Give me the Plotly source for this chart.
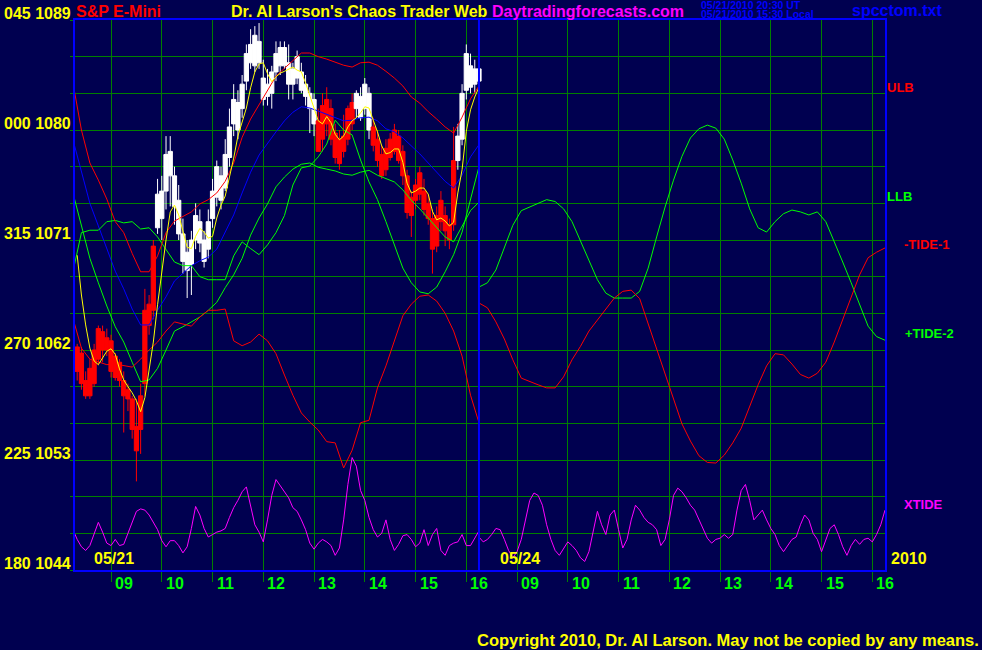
import plotly.graph_objects as go

# ---------------- data ----------------
DAY1_LABEL = "05/21"
DAY2_LABEL = "05/24"
YEAR_LABEL = "2010"
SESSION_START = 8.25          # 08:15
SESSION_END = 16.25           # 16:15
DAY2_OFFSET = 8.0             # second session drawn right after the first
HOURS = [9, 10, 11, 12, 13, 14, 15, 16]

# left axis: price labels and their angle prefixes
price_ticks = [1044, 1053, 1062, 1071, 1080, 1089]
angle_ticks = ["180", "225", "270", "315", "000", "045"]

# 5-minute bars 05/21 (bar centres from 08:20)
bar_open = [1062.25, 1061.75, 1059.5, 1060.5, 1062.0, 1063.75, 1063.5, 1063.0, 1062.75, 1061.5,
            1061.0, 1059.5, 1058.75, 1058.0, 1055.75, 1058.25, 1065.25, 1065.75, 1070.5, 1072.0,
            1072.75, 1075.0, 1076.25, 1073.75, 1071.5, 1069.25, 1068.5, 1069.0, 1071.0, 1070.75,
            1069.25, 1070.25, 1072.75, 1074.5, 1074.25, 1075.25, 1077.75, 1080.5, 1080.0, 1081.75,
            1084.0, 1085.5, 1085.25, 1085.5, 1082.5, 1082.75, 1083.0, 1084.75, 1085.25, 1085.25,
            1083.75, 1083.75, 1084.25, 1083.25, 1082.75, 1081.75, 1080.5, 1080.75, 1082.0, 1082.5,
            1081.75, 1079.75, 1079.25, 1079.5, 1081.75, 1082.25, 1081.75, 1081.0, 1081.75, 1080.0,
            1080.25, 1079.25, 1078.0, 1078.5, 1079.25, 1080.0, 1079.5, 1078.25, 1076.25, 1074.5,
            1075.5, 1076.5, 1075.0, 1074.0, 1072.75, 1073.0, 1074.25, 1073.0, 1072.25, 1077.5,
            1077.5, 1079.25, 1083.25, 1083.5, 1083.75, 1084.0]
bar_high = [1062.5, 1062.25, 1060.25, 1061.25, 1062.5, 1064.0, 1064.0, 1063.75, 1063.25, 1061.75,
            1061.25, 1060.25, 1059.25, 1058.25, 1058.0, 1059.25, 1067.0, 1066.5, 1071.0, 1076.0,
            1076.25, 1079.5, 1079.5, 1077.0, 1075.5, 1072.75, 1071.0, 1071.75, 1074.0, 1073.5,
            1071.75, 1073.5, 1076.0, 1077.5, 1077.0, 1079.25, 1081.75, 1083.75, 1083.25, 1084.5,
            1087.0, 1088.25, 1088.5, 1088.75, 1085.75, 1085.0, 1085.25, 1087.25, 1087.25, 1087.25,
            1087.0, 1085.5, 1086.5, 1085.5, 1084.5, 1083.5, 1083.0, 1081.75, 1083.0, 1083.5,
            1082.5, 1080.5, 1080.0, 1081.25, 1082.0, 1083.0, 1083.25, 1083.5, 1084.25, 1083.5,
            1081.0, 1080.0, 1078.75, 1079.25, 1079.75, 1080.5, 1080.0, 1078.75, 1076.75, 1075.0,
            1076.0, 1077.0, 1076.0, 1074.75, 1073.5, 1073.75, 1075.0, 1073.75, 1072.75, 1080.25,
            1080.5, 1083.75, 1087.0, 1086.25, 1085.75, 1085.25]
bar_low = [1059.5, 1058.75, 1058.0, 1058.0, 1059.0, 1060.75, 1061.0, 1061.5, 1059.75, 1059.5,
           1059.0, 1055.25, 1057.0, 1054.75, 1051.25, 1053.5, 1058.25, 1063.25, 1064.5, 1071.5,
           1071.0, 1073.5, 1073.75, 1072.25, 1071.0, 1068.25, 1066.25, 1066.5, 1070.25, 1070.0,
           1068.75, 1069.5, 1072.0, 1073.75, 1073.5, 1075.0, 1077.0, 1079.5, 1079.25, 1081.0,
           1083.25, 1085.0, 1084.75, 1085.0, 1082.0, 1082.0, 1081.75, 1084.0, 1084.5, 1085.0,
           1082.5, 1082.5, 1083.75, 1083.0, 1082.0, 1079.75, 1079.5, 1078.25, 1078.25, 1079.5,
           1078.75, 1077.25, 1076.75, 1077.75, 1078.75, 1080.0, 1081.0, 1080.75, 1081.25, 1079.25,
           1078.25, 1077.0, 1076.0, 1076.25, 1077.5, 1078.0, 1077.25, 1075.5, 1072.75, 1071.25,
           1073.5, 1074.25, 1073.0, 1072.25, 1068.25, 1070.0, 1071.75, 1070.5, 1070.25, 1071.75,
           1076.75, 1078.75, 1082.5, 1083.0, 1083.0, 1083.5]
bar_close = [1060.25, 1059.25, 1058.25, 1058.25, 1059.25, 1061.25, 1062.0, 1062.0, 1060.25, 1059.75,
             1059.5, 1058.25, 1058.0, 1055.5, 1053.75, 1055.5, 1059.25, 1064.0, 1065.25, 1074.75,
             1075.0, 1078.0, 1078.25, 1076.25, 1074.25, 1071.5, 1070.0, 1071.0, 1073.0, 1072.5,
             1071.0, 1072.5, 1075.0, 1077.0, 1076.25, 1078.0, 1080.25, 1082.5, 1082.25, 1083.75,
             1086.25, 1087.0, 1087.75, 1087.25, 1084.25, 1083.75, 1084.75, 1086.25, 1086.75, 1086.75,
             1085.5, 1085.0, 1086.0, 1084.75, 1083.75, 1083.0, 1082.5, 1078.25, 1079.25, 1080.5,
             1079.25, 1077.75, 1077.25, 1078.25, 1079.25, 1080.5, 1083.0, 1082.75, 1083.75, 1083.0,
             1078.75, 1077.5, 1076.25, 1076.75, 1077.75, 1078.25, 1077.5, 1076.25, 1073.25, 1073.0,
             1074.25, 1074.75, 1073.5, 1072.75, 1070.25, 1070.5, 1072.5, 1071.75, 1071.0, 1072.25,
             1079.5, 1083.0, 1086.25, 1085.25, 1085.0, 1085.0]

# yellow smoothed price, at the bar centres
yellow = [1069.75, 1066.5, 1064.05, 1062.15, 1061.1, 1060.8, 1061.35, 1061.9, 1062.1, 1061.65,
          1060.45, 1059.55, 1059.0, 1058.5, 1057.85, 1056.95, 1058.1, 1060.2, 1062.65, 1065.7,
          1068.55, 1071.0, 1073.3, 1073.85, 1073.05, 1071.8, 1070.4, 1070.3, 1071.3, 1071.95,
          1071.65, 1071.15, 1071.3, 1072.8, 1073.85, 1074.6, 1076.1, 1077.7, 1079.5, 1080.65,
          1081.8, 1083.45, 1084.75, 1085.4, 1085.5, 1084.6, 1083.95, 1084.35, 1084.65, 1084.8,
          1085.0, 1085.15, 1084.9, 1084.75, 1083.85, 1082.8, 1081.9, 1080.75, 1080.5, 1081.1,
          1080.6, 1079.65, 1079.2, 1079.5, 1080.25, 1080.75, 1081.0, 1081.4, 1081.9, 1081.8,
          1080.8, 1079.85, 1078.7, 1078.05, 1078.15, 1078.45, 1078.45, 1077.35, 1075.65, 1074.85,
          1075.0, 1075.25, 1075.25, 1074.75, 1073.35, 1072.65, 1072.8, 1072.55, 1072.15, 1072.45,
          1074.85, 1076.75, 1079.9, 1081.65, 1082.7, 1083.5]

# 10-minute bands 05/21 (08:15 .. 16:15)
ulb = [1083.85, 1080.0, 1077.3, 1075.9, 1074.35, 1072.5, 1071.6, 1069.9, 1068.4, 1068.4,
       1069.7, 1071.6, 1072.55, 1072.9, 1073.3, 1073.95, 1074.3, 1074.85, 1075.8, 1077.3,
       1079.4, 1080.9, 1082.1, 1083.2, 1084.4, 1085.05, 1085.7, 1086.3, 1086.3, 1086.0,
       1085.8, 1085.55, 1085.3, 1085.15, 1085.5, 1085.55, 1085.3, 1084.8, 1084.25, 1083.6,
       1082.7, 1082.2, 1081.5, 1080.9, 1080.25, 1079.75, 1081.05, 1082.55, 1083.6]
mid_band = [1079.2, 1076.55, 1074.0, 1072.15, 1070.25, 1068.45, 1067.0, 1065.35, 1064.05, 1064.05,
            1065.25, 1066.35, 1067.65, 1068.3, 1068.9, 1069.3, 1069.6, 1070.25, 1071.65, 1073.05,
            1074.85, 1076.55, 1077.95, 1078.95, 1079.85, 1080.75, 1081.45, 1081.9, 1081.8, 1081.55,
            1081.3, 1081.05, 1080.75, 1080.8, 1081.0, 1081.05, 1080.75, 1080.1, 1079.85, 1079.35,
            1078.7, 1078.05, 1077.3, 1076.55, 1075.8, 1075.25, 1076.3, 1077.8, 1078.8]
llb = [1074.85, 1072.15, 1069.5, 1067.5, 1065.6, 1063.9, 1062.65, 1061.0, 1059.4, 1059.55,
       1060.5, 1062.0, 1063.55, 1063.9, 1064.3, 1064.7, 1065.25, 1065.9, 1067.1, 1068.15,
       1069.5, 1071.4, 1072.8, 1073.95, 1075.35, 1076.15, 1076.8, 1077.2, 1077.3, 1076.95,
       1076.8, 1076.65, 1076.4, 1076.3, 1076.55, 1076.7, 1076.3, 1076.0, 1075.75, 1075.1,
       1074.25, 1073.55, 1072.8, 1072.0, 1071.25, 1070.85, 1072.15, 1073.4, 1074.1]

# 10-minute tides, 05/21 then 05/24 (08:15 .. 16:15 each)
tide1_d1 = [1064.6, 1062.15, 1061.25, 1061.0, 1060.8, 1060.85, 1060.7, 1060.6, 1061.25, 1062.0,
            1062.65, 1063.55, 1064.3, 1064.1, 1063.95, 1064.7, 1065.25, 1065.25, 1065.35, 1062.75,
            1062.35, 1062.65, 1063.3, 1062.75, 1061.7, 1059.95, 1058.3, 1056.85, 1056.1, 1055.45,
            1054.5, 1054.4, 1052.35, 1053.8, 1056.05, 1056.25, 1058.9, 1060.7, 1062.8, 1064.8,
            1065.75, 1066.4, 1066.5, 1066.0, 1065.0, 1063.55, 1061.5, 1058.3, 1056.05]
tide1_d2 = [1065.85, 1065.45, 1064.3, 1062.9, 1061.2, 1059.7, 1059.4, 1059.15, 1058.9, 1058.9,
            1059.8, 1061.2, 1062.3, 1063.55, 1064.45, 1065.35, 1066.25, 1066.8, 1066.9, 1066.2,
            1064.15, 1062.0, 1059.95, 1057.9, 1055.95, 1054.55, 1053.35, 1052.8, 1052.75, 1053.4,
            1054.4, 1055.6, 1057.4, 1059.15, 1060.7, 1061.7, 1061.6, 1060.85, 1060.0, 1059.7,
            1060.1, 1061.0, 1062.65, 1064.45, 1066.35, 1068.15, 1069.55, 1070.0, 1070.35]
tide2_d1 = [1068.4, 1071.6, 1071.8, 1071.8, 1072.5, 1072.6, 1072.4, 1072.5, 1071.9, 1072.0,
            1071.25, 1070.2, 1069.2, 1068.9, 1068.9, 1068.0, 1067.75, 1067.75, 1067.75, 1069.7,
            1070.85, 1070.3, 1069.8, 1070.6, 1071.6, 1073.0, 1075.5, 1076.9, 1077.05, 1077.8,
            1078.85, 1080.8, 1080.0, 1079.6, 1077.55, 1075.75, 1074.3, 1072.5, 1070.6, 1068.7,
            1067.5, 1066.75, 1066.6, 1067.15, 1068.4, 1069.8, 1071.65, 1074.3, 1077.0]
tide2_d2 = [1067.15, 1067.5, 1068.55, 1070.45, 1072.2, 1073.4, 1073.7, 1074.05, 1074.3, 1074.15,
            1073.55, 1072.5, 1070.9, 1069.2, 1067.75, 1066.65, 1066.25, 1066.25, 1066.25, 1066.8,
            1068.7, 1071.25, 1073.7, 1075.9, 1077.85, 1079.35, 1080.1, 1080.4, 1080.15, 1079.25,
            1077.55, 1075.65, 1073.55, 1072.0, 1071.65, 1072.5, 1073.15, 1073.45, 1073.3, 1073.05,
            1073.3, 1072.5, 1070.9, 1069.2, 1067.5, 1065.75, 1063.95, 1063.1, 1062.8]

# 5-minute cross tide, 05/21 then 05/24 (08:15 .. 16:15 each)
xtide_d1 = [1047.3, 1046.5, 1045.9, 1045.6, 1046.0, 1046.9, 1047.9, 1047.1, 1046.2, 1046.0,
            1046.5, 1046.0, 1046.1, 1047.0, 1047.9, 1048.8, 1049.0, 1048.9, 1048.5, 1047.9,
            1047.3, 1046.4, 1045.9, 1046.4, 1046.4, 1046.0, 1045.4, 1045.9, 1047.4, 1049.2,
            1048.5, 1047.4, 1046.7, 1046.9, 1047.1, 1047.2, 1047.4, 1048.3, 1049.1, 1049.7,
            1050.4, 1050.8, 1049.3, 1047.7, 1047.1, 1046.3, 1048.1, 1050.1, 1051.4, 1050.9,
            1050.5, 1049.9, 1049.1, 1048.8, 1048.1, 1047.3, 1046.2, 1045.7, 1046.2, 1046.5,
            1046.3, 1046.0, 1045.2, 1045.8, 1048.1, 1051.0, 1053.2, 1052.5, 1050.5, 1049.7,
            1048.3, 1047.3, 1046.7, 1047.0, 1048.1, 1046.5, 1045.6, 1046.1, 1046.8, 1046.9,
            1046.5, 1045.9, 1046.2, 1047.3, 1046.0, 1046.9, 1047.4, 1045.6, 1045.2, 1046.0,
            1046.2, 1046.3, 1046.9, 1046.0, 1046.0, 1046.6, 1047.2]
xtide_d2 = [1046.7, 1046.3, 1046.5, 1046.9, 1047.4, 1047.3, 1046.5, 1045.6, 1045.0, 1045.5,
            1046.5, 1048.1, 1049.7, 1050.3, 1050.1, 1049.3, 1047.7, 1046.5, 1045.6, 1045.2,
            1045.8, 1046.3, 1046.0, 1045.6, 1045.0, 1044.7, 1045.5, 1047.3, 1048.8, 1047.7,
            1046.9, 1048.5, 1048.9, 1047.3, 1045.8, 1046.5, 1048.1, 1049.3, 1048.9, 1048.3,
            1047.9, 1047.7, 1047.3, 1046.0, 1046.5, 1048.1, 1050.1, 1050.7, 1050.4, 1049.9,
            1049.3, 1048.9, 1048.1, 1047.3, 1046.6, 1046.2, 1046.5, 1046.6, 1046.9, 1046.6,
            1046.9, 1048.9, 1050.5, 1051.0, 1049.7, 1048.1, 1048.5, 1048.9, 1048.1, 1047.4,
            1046.9, 1046.0, 1045.5, 1046.0, 1046.5, 1046.7, 1047.7, 1048.5, 1048.1, 1047.0,
            1046.5, 1045.5, 1046.5, 1047.4, 1047.7, 1046.9, 1045.9, 1045.2, 1046.0, 1046.5,
            1046.1, 1046.5, 1046.6, 1046.3, 1046.9, 1047.7, 1048.9]

# ---------------- styling ----------------
BG = "#000050"
BLUE = "#0000FF"
GRID = "#008000"
YELLOW = "#FFFF00"
RED = "#FF0000"
GREEN = "#00FF00"
MAGENTA = "#FF00FF"
FONT = "Liberation Sans, Arial, sans-serif"


def times(start, step_min, n, offset=0.0):
    return [offset + start + i * step_min / 60.0 for i in range(n)]


bar_t = times(SESSION_START + 5 / 60.0, 5, len(bar_open))
band_t = times(SESSION_START, 10, len(ulb))
tide_t = times(SESSION_START, 10, len(tide1_d1)) + times(SESSION_START, 10, len(tide1_d2), DAY2_OFFSET)
xt_t = times(SESSION_START, 5, len(xtide_d1)) + times(SESSION_START, 5, len(xtide_d2), DAY2_OFFSET)

fig = go.Figure()

fig.add_trace(go.Candlestick(
    x=bar_t, open=bar_open, high=bar_high, low=bar_low, close=bar_close,
    increasing=dict(line=dict(color="#FFFFFF", width=1), fillcolor="#FFFFFF"),
    decreasing=dict(line=dict(color=RED, width=1), fillcolor=RED),
    whiskerwidth=0, hoverinfo="skip"))


def line(x, y, color):
    fig.add_trace(go.Scatter(x=x, y=y, mode="lines", line=dict(color=color, width=1),
                             hoverinfo="skip"))


line(band_t, mid_band, BLUE)
line(band_t, llb, GREEN)
line(tide_t, tide2_d1 + tide2_d2, GREEN)
line(tide_t, tide1_d1 + tide1_d2, RED)
line(band_t, ulb, RED)
line(xt_t, xtide_d1 + xtide_d2, MAGENTA)
line(bar_t, yellow, YELLOW)

tick_x = HOURS + [h + DAY2_OFFSET for h in HOURS]
fig.update_xaxes(range=[SESSION_START + 0.04, SESSION_END + DAY2_OFFSET], tickvals=tick_x,
                 showticklabels=False, showgrid=True, gridcolor=GRID, gridwidth=1,
                 ticks="outside", ticklen=10, tickcolor=GRID, tickwidth=1,
                 showline=True, linecolor=BLUE, linewidth=2, mirror=True, zeroline=False,
                 rangeslider=dict(visible=False), fixedrange=True)
fig.update_yaxes(range=[price_ticks[0], price_ticks[-1]],
                 tickvals=list(range(price_ticks[0], price_ticks[-1] + 1, 3)),
                 showticklabels=False, showgrid=True, gridcolor=GRID, gridwidth=1,
                 ticks="outside", ticklen=3, tickcolor=GRID,
                 showline=True, linecolor=BLUE, linewidth=2, mirror=True, zeroline=False,
                 fixedrange=True)

# day divider
fig.add_shape(type="line", x0=SESSION_END, x1=SESSION_END, y0=0, y1=1, yref="paper",
              line=dict(color=BLUE, width=2))

ann = []


def text(s, x, y, color, size=16, xanchor="left", yanchor="middle", xref="paper", yref="paper",
         xshift=0, yshift=0, bold=True):
    ann.append(dict(text=s, x=x, y=y, xref=xref, yref=yref, xanchor=xanchor, yanchor=yanchor,
                    showarrow=False, xshift=xshift, yshift=yshift,
                    font=dict(family=FONT, size=size, color=color,
                              weight="bold" if bold else "normal")))


W, H = 810.0, 550.0
px = lambda X: (X - 75) / W
py = lambda Y: (570 - Y) / H

for v, a in zip(price_ticks, angle_ticks):
    text(f"{a} {v}", px(73), v, YELLOW, xanchor="right", yref="y", yshift=7)

for h in HOURS:
    for off in (0.0, DAY2_OFFSET):
        text(f"{h:02d}", h + off, py(583), GREEN, xref="x", xshift=2)

text(DAY1_LABEL, 9, py(558), YELLOW, xanchor="center", xref="x", xshift=3)
text(DAY2_LABEL, 9 + DAY2_OFFSET, py(558), YELLOW, xanchor="center", xref="x", xshift=3)
text(YEAR_LABEL, px(889), py(558), YELLOW)

text("S&P E-Mini", px(74), py(11), RED)
text("Dr. Al Larson's Chaos Trader Web", px(229), py(11), YELLOW)
text("Daytradingforecasts.com", px(490), py(11), MAGENTA)
text("05/21/2010 20:30 UT", px(699), py(5.5), BLUE, size=10.5)
text("05/21/2010 15:30 Local", px(699), py(14.5), BLUE, size=10.5)
text("spcctom.txt", px(850), py(10), BLUE)

text("ULB", px(885), py(87), RED, size=13)
text("LLB", px(885), py(197), GREEN, size=13)
text("-TIDE-1", px(902), py(245), RED, size=13)
text("+TIDE-2", px(903), py(333), GREEN, size=13)
text("XTIDE", px(902), py(504), MAGENTA, size=13)

text("Copyright 2010, Dr. Al Larson. May not be copied by any means.", px(981), py(640),
     YELLOW, size=16.5, xanchor="right")

fig.update_layout(width=982, height=650, margin=dict(l=75, r=97, t=20, b=80),
                  paper_bgcolor=BG, plot_bgcolor=BG, showlegend=False,
                  boxgap=0.0, boxgroupgap=0.0,
                  annotations=ann, font=dict(family=FONT))

fig.write_html("out.html", config={"displayModeBar": False},
               post_script="document.body.style.margin='0';"
                           "document.body.style.background='" + BG + "';")
